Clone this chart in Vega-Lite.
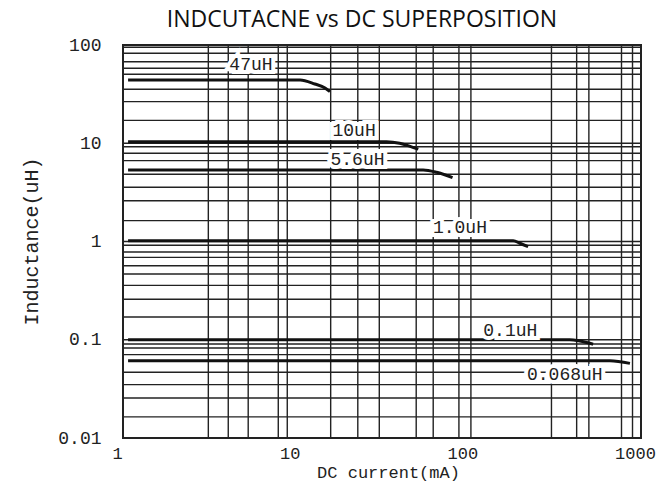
{
  "$schema": "https://vega.github.io/schema/vega-lite/v6.json",
  "width": 518,
  "height": 393,
  "autosize": {"type": "none"},
  "padding": {"left": 123, "top": 45, "right": 19, "bottom": 45},
  "background": "white",
  "title": {
    "text": "INDCUTACNE vs DC SUPERPOSITION",
    "font": "Open Sans",
    "fontSize": 23,
    "fontWeight": "normal",
    "color": "#111",
    "anchor": "middle",
    "offset": 4,
    "dx": -20
  },
  "config": {
    "view": {"stroke": "#222", "strokeWidth": 2},
    "axis": {
      "domain": false,
      "ticks": false,
      "grid": false,
      "labelFont": "Liberation Mono",
      "labelFontSize": 18,
      "labelColor": "#222",
      "labelFlush": false,
      "labelOverlap": false,
      "titleColor": "#222",
      "titleFontWeight": "normal"
    }
  },
  "datasets": {
    "curves": [
      {"series": "47uH", "current": 1.07, "L": 44.0},
      {"series": "47uH", "current": 10.6, "L": 44.0},
      {"series": "47uH", "current": 12.9, "L": 40.1},
      {"series": "47uH", "current": 14.8, "L": 36.5},
      {"series": "47uH", "current": 15.8, "L": 33.5},
      {"series": "10uH", "current": 1.07, "L": 10.37},
      {"series": "10uH", "current": 33.6, "L": 10.37},
      {"series": "10uH", "current": 40.0, "L": 10.0},
      {"series": "10uH", "current": 46.0, "L": 9.3},
      {"series": "10uH", "current": 51.3, "L": 8.7},
      {"series": "5.6uH", "current": 1.07, "L": 5.35},
      {"series": "5.6uH", "current": 54.8, "L": 5.35},
      {"series": "5.6uH", "current": 65.5, "L": 5.06},
      {"series": "5.6uH", "current": 81.0, "L": 4.46},
      {"series": "1.0uH", "current": 1.07, "L": 1.02},
      {"series": "1.0uH", "current": 182, "L": 1.02},
      {"series": "1.0uH", "current": 199, "L": 0.96},
      {"series": "1.0uH", "current": 222, "L": 0.885},
      {"series": "0.1uH", "current": 1.07, "L": 0.1},
      {"series": "0.1uH", "current": 387, "L": 0.1},
      {"series": "0.1uH", "current": 443, "L": 0.097},
      {"series": "0.1uH", "current": 528, "L": 0.09},
      {"series": "0.068uH", "current": 1.07, "L": 0.0612},
      {"series": "0.068uH", "current": 661, "L": 0.0612},
      {"series": "0.068uH", "current": 863, "L": 0.0575}
    ],
    "labels": [
      {"text": "47uH", "current": 5.51, "L": 62.5},
      {"text": "10uH", "current": 21.8, "L": 13.4},
      {"text": "5.6uH", "current": 22.8, "L": 6.75},
      {"text": "1.0uH", "current": 89.4, "L": 1.36},
      {"text": "0.1uH", "current": 175, "L": 0.1236},
      {"text": "0.068uH", "current": 362, "L": 0.0438}
    ],
    "vgrid": [
      {"current": 3.12}, {"current": 4.07}, {"current": 5.31}, {"current": 7.93},
      {"current": 8.94}, {"current": 15.95}, {"current": 22.9}, {"current": 30.5},
      {"current": 49.9}, {"current": 62.6}, {"current": 88.2}, {"current": 103.5},
      {"current": 303}, {"current": 424}, {"current": 499}, {"current": 771},
      {"current": 893}
    ],
    "hgrid": [
      {"L": 94.8}, {"L": 82.3}, {"L": 67.6}, {"L": 57.9}, {"L": 50.3},
      {"L": 35.5}, {"L": 26.5}, {"L": 17.1}, {"L": 10.0}, {"L": 9.22},
      {"L": 7.90}, {"L": 6.65}, {"L": 4.83}, {"L": 3.56}, {"L": 2.60},
      {"L": 1.63}, {"L": 1.0}, {"L": 0.915}, {"L": 0.782}, {"L": 0.690},
      {"L": 0.567}, {"L": 0.467}, {"L": 0.358}, {"L": 0.258}, {"L": 0.1705},
      {"L": 0.1}, {"L": 0.0906}, {"L": 0.0824}, {"L": 0.0705}, {"L": 0.0467},
      {"L": 0.0349}, {"L": 0.0255}, {"L": 0.0164}
    ]
  },
  "layer": [
    {
      "data": {"name": "vgrid"},
      "mark": {"type": "rule", "color": "#222", "strokeWidth": 1.4},
      "encoding": {
        "x": {
          "field": "current", "type": "quantitative",
          "scale": {"type": "log", "domain": [1, 1000], "nice": false},
          "axis": {
            "values": [1, 10, 100, 1000], "format": "~g",
            "labelPadding": 7, "labelOffset": -6, "labelFontSize": 17,
            "title": "DC current(mA)", "titleFont": "Liberation Mono", "titleFontSize": 17,
            "titleX": 265, "titleY": 39, "titleBaseline": "alphabetic", "titleAnchor": "middle", "titleAlign": "center"
          }
        }
      }
    },
    {
      "data": {"name": "hgrid"},
      "mark": {"type": "rule", "color": "#222", "strokeWidth": 1.4},
      "encoding": {
        "y": {
          "field": "L", "type": "quantitative",
          "scale": {"type": "log", "domain": [0.01, 100], "nice": false},
          "axis": {
            "values": [0.01, 0.1, 1, 10, 100], "format": "~g",
            "labelPadding": 22, "labelBaseline": "middle",
            "title": "Inductance(uH)", "titleFont": "Liberation Mono", "titleFontSize": 20,
            "titleAngle": -90, "titleX": -92, "titleY": 196, "titleAlign": "center", "titleBaseline": "middle", "titleAnchor": "middle"
          }
        }
      }
    },
    {
      "data": {"name": "curves"},
      "mark": {"type": "line", "color": "#111", "strokeWidth": 3, "interpolate": "monotone"},
      "encoding": {
        "x": {
          "field": "current", "type": "quantitative",
          "scale": {"type": "log", "domain": [1, 1000], "nice": false},
          "axis": {
            "values": [1, 10, 100, 1000], "format": "~g",
            "labelPadding": 7, "labelOffset": -6, "labelFontSize": 17,
            "title": "DC current(mA)", "titleFont": "Liberation Mono", "titleFontSize": 17,
            "titleX": 265, "titleY": 39, "titleBaseline": "alphabetic", "titleAnchor": "middle", "titleAlign": "center"
          }
        },
        "y": {
          "field": "L", "type": "quantitative",
          "scale": {"type": "log", "domain": [0.01, 100], "nice": false},
          "axis": {
            "values": [0.01, 0.1, 1, 10, 100], "format": "~g",
            "labelPadding": 22, "labelBaseline": "middle",
            "title": "Inductance(uH)", "titleFont": "Liberation Mono", "titleFontSize": 20,
            "titleAngle": -90, "titleX": -92, "titleY": 196, "titleAlign": "center", "titleBaseline": "middle", "titleAnchor": "middle"
          }
        },
        "detail": {"field": "series", "type": "nominal"},
        "order": {"field": "current", "type": "quantitative"}
      }
    },
    {
      "data": {"name": "labels"},
      "mark": {"type": "text", "font": "Liberation Mono", "fontSize": 18, "fill": "white", "stroke": "white", "strokeWidth": 8, "align": "center", "baseline": "middle"},
      "encoding": {
        "x": {"field": "current", "type": "quantitative", "scale": {"type": "log", "domain": [1, 1000], "nice": false}},
        "y": {"field": "L", "type": "quantitative", "scale": {"type": "log", "domain": [0.01, 100], "nice": false}},
        "text": {"field": "text", "type": "nominal"}
      }
    },
    {
      "data": {"name": "labels"},
      "mark": {"type": "text", "font": "Liberation Mono", "fontSize": 18, "color": "#222", "align": "center", "baseline": "middle"},
      "encoding": {
        "x": {"field": "current", "type": "quantitative", "scale": {"type": "log", "domain": [1, 1000], "nice": false}},
        "y": {"field": "L", "type": "quantitative", "scale": {"type": "log", "domain": [0.01, 100], "nice": false}},
        "text": {"field": "text", "type": "nominal"}
      }
    }
  ]
}
